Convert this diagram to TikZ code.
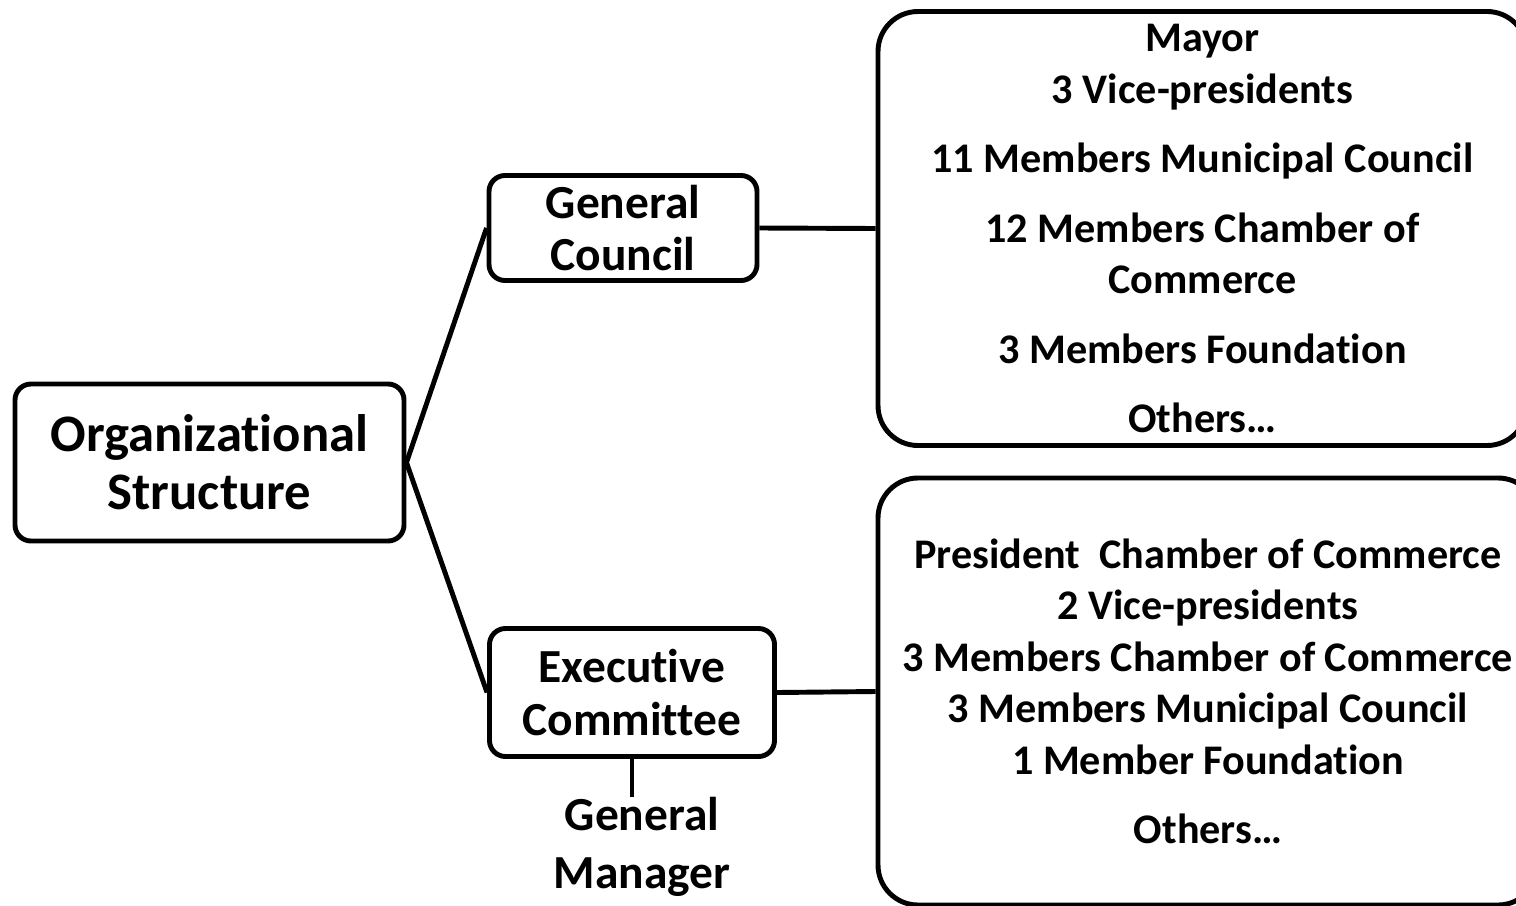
\documentclass[tikz,border=0pt]{standalone}
\usepackage{fontspec}
\setmainfont{Carlito}[Ligatures=NoCommon]
\begin{document}
\begin{tikzpicture}[
        line width=2.8pt,
        font=\bfseries
    ]
    \tikzset{
        orgnode/.style = {rectangle, draw=black, align=center, rounded corners=0.32cm, inner sep=0pt},
        bignode/.style = {orgnode, font=\bfseries\fontsize{30pt}{33pt}\selectfont},
        midnode/.style = {orgnode, font=\bfseries\fontsize{27pt}{30pt}\selectfont},
        listnode/.style = {orgnode, rounded corners=0.8cm, font=\bfseries\fontsize{24pt}{29.3pt}\selectfont},
    }
    \useasboundingbox (0,0) rectangle (30.32,-18.10);
    \clip (0,0) rectangle (30.32,-18.10);
    \node[bignode,minimum width=7.78cm,minimum height=3.14cm] at (4.19,-9.25) (A) {Organizational\\Structure};
    \node[midnode,minimum width=5.36cm,minimum height=2.10cm] at (12.46,-4.56) (B) {General\\Council};
    \node[midnode,minimum width=5.70cm,minimum height=2.56cm] at (12.64,-13.85) (C) {Executive\\Committee};
    \node[listnode,minimum width=12.98cm,minimum height=8.68cm] at (24.05,-4.57) (D) {Mayor\\3 Vice-presidents\\[0.36cm]11 Members Municipal Council\\[0.36cm]12 Members Chamber of\\Commerce\\[0.36cm]3 Members Foundation\\[0.36cm]Others…};
    \node[listnode,minimum width=13.20cm,minimum height=8.54cm] at (24.16,-13.83) (E) {President\ \ Chamber of Commerce\\2 Vice-presidents\\3 Members Chamber of Commerce\\3 Members Municipal Council\\1 Member Foundation\\[0.36cm]Others…};
    \node[align=center,inner sep=0pt,font=\bfseries\fontsize{27pt}{33pt}\selectfont] at (12.84,-16.94) (F) {General\\Manager};
    \coordinate (G) at (12.64,-15.94);
    \draw (A.east) -- (B.west);
    \draw (A.east) -- (C.west);
    \draw (B.east) -- (D.west);
    \draw (C.east) -- (E.west);
    \draw (C.south) -- (G);
    \end{tikzpicture}
\end{document}
